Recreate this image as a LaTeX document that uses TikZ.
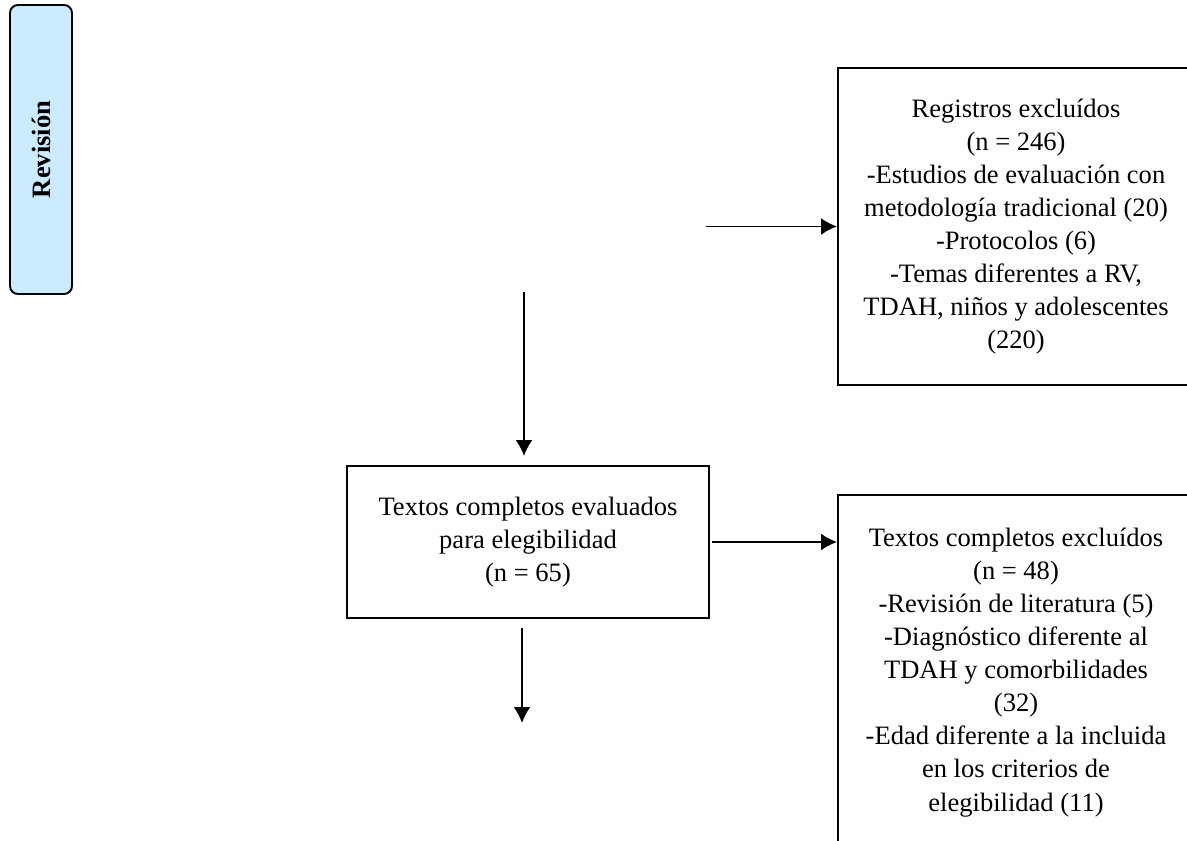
\documentclass[tikz,border=0pt]{standalone}
\usepackage{fontspec}
\setmainfont{Liberation Serif}
\usetikzlibrary{arrows.meta}
\definecolor{revfill}{HTML}{CCEBFF}
\tikzset{
	flowbox/.style={draw,line width=1.1pt,align=center,font=\fontsize{15.1}{18.8}\selectfont},
	phasebox/.style={draw,line width=1.1pt,rounded corners=0.16cm,fill=revfill,rotate=90,font=\fontsize{15.1}{18.8}\selectfont\bfseries},
	flowarrow/.style={line width=1.1pt,-{Latex[length=3.2mm,width=3.4mm]}}
}
\begin{document}
\begin{tikzpicture}
	\useasboundingbox (0,0) rectangle (23.74,-16.8);
	\clip (0,0) rectangle (23.74,-16.8); % Clips the boxes on the right...

		\node[phasebox,minimum width=5.78cm,minimum height=1.24cm] (revision) at (0.82,-2.99) {Revisión};

		\node[flowbox,minimum width=7.12cm,minimum height=6.34cm] (excluded) at (20.32,-4.53)
			{Registros excluídos\\(n = 246)\\-Estudios de evaluación con\\metodología tradicional (20)\\-Protocolos (6)\\-Temas diferentes a RV,\\TDAH, niños y adolescentes\\(220)};
		\node[flowbox,minimum width=7.24cm,minimum height=3.04cm] (fulltext) at (10.56,-10.84)
			{Textos completos evaluados\\para elegibilidad\\(n = 65)};
		\node[flowbox,minimum width=7.12cm,minimum height=7.1cm] (fulltextexcl) at (20.32,-13.45)
			{Textos completos excluídos\\(n = 48)\\-Revisión de literatura (5)\\-Diagnóstico diferente al\\TDAH y comorbilidades\\(32)\\-Edad diferente a la incluida\\en los criterios de\\elegibilidad (11)};

    		\coordinate (ScreenOut)  at (14.12,-4.53);
    		\coordinate (ScreenTop)  at (10.48,-5.84);
    		\coordinate (ScreenEnd)  at (10.48,-9.12);
    		\coordinate (IncludeTop) at (10.44,-12.56);
    		\coordinate (IncludeEnd) at (10.44,-14.46);

    		\draw[flowarrow] (ScreenOut) -- (excluded.west);% excluded records
    		\draw[flowarrow] (ScreenTop) -- (ScreenEnd);
    		\draw[flowarrow] ([xshift=0.04cm]fulltext.east) -- (fulltext.east -| fulltextexcl.west);% excluded full texts
    		\draw[flowarrow] (IncludeTop) -- (IncludeEnd);
	\end{tikzpicture}
\end{document}
